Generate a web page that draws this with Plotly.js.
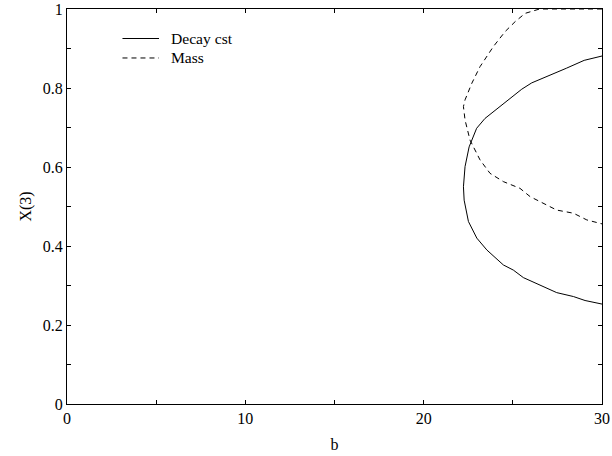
<!DOCTYPE html>
<html>
<head>
<meta charset="utf-8">
<script src="https://cdn.plot.ly/plotly-3.0.1.min.js"></script>
<style>html,body{margin:0;padding:0;background:#fff;}#chart{width:612px;height:456px;}</style>
</head>
<body>
<div id="chart"></div>
<script>
// Decay cst curve (solid)
const decayB = [30, 29.0, 28.0, 27.0, 26.06, 25.5, 25.03, 24.3, 23.44, 22.97, 22.55, 22.32, 22.23, 22.27, 22.51, 22.98, 23.54, 24.47, 25.03, 25.59, 26.53, 27.46, 28.40, 29.05, 30];
const decayX3 = [0.881, 0.87, 0.85, 0.83, 0.813, 0.797, 0.780, 0.755, 0.723, 0.698, 0.651, 0.601, 0.55, 0.516, 0.462, 0.420, 0.390, 0.352, 0.339, 0.320, 0.301, 0.282, 0.272, 0.262, 0.253];
// Mass curve (dashed)
const massB = [30, 28, 26.5, 25.69, 25.13, 24.57, 23.91, 23.16, 22.70, 22.32, 22.23, 22.32, 22.6, 23.16, 23.72, 24.47, 25.4, 25.97, 26.53, 27.46, 28.4, 29.15, 30];
const massX3 = [1.0, 1.0, 1.0, 0.989, 0.968, 0.943, 0.905, 0.854, 0.812, 0.770, 0.753, 0.719, 0.668, 0.618, 0.584, 0.563, 0.546, 0.525, 0.512, 0.491, 0.483, 0.466, 0.456];
const seriesNames = ["Decay cst", "Mass"];
const xTicks = [0, 10, 20, 30];
const yTicks = [0, 0.2, 0.4, 0.6, 0.8, 1];
const yTickText = ["0", "0.2", "0.4", "0.6", "0.8", "1"];

const font = "Liberation Serif, Times New Roman, serif";
const dashes = ["solid", "5px,4px"];
const traces = [
  {x: decayB, y: decayX3, name: seriesNames[0], mode: "lines", line: {color: "#000", width: 1, dash: dashes[0]}},
  {x: massB, y: massX3, name: seriesNames[1], mode: "lines", line: {color: "#000", width: 1, dash: dashes[1]}}
];
// legend drawn as paper-space samples + labels
const legX0 = 0.1037, legX1 = 0.172, legTextX = 0.1907;
const legY = [0.9253, 0.876];
const shapes = seriesNames.map((n, i) => ({
  type: "line", xref: "paper", yref: "paper", x0: legX0, x1: legX1, y0: legY[i], y1: legY[i],
  line: {color: "#000", width: 1, dash: dashes[i]}
}));
const annotations = seriesNames.map((n, i) => ({
  text: n, xref: "paper", yref: "paper", x: legTextX, y: legY[i], xanchor: "left", yanchor: "middle",
  showarrow: false, font: {family: font, size: 15.6, color: "#000"}
}));
const axisCommon = {
  showgrid: false, zeroline: false, showline: true, linecolor: "#000", linewidth: 1,
  mirror: "ticks", ticks: "inside", ticklen: 4, tickwidth: 1, tickcolor: "#000",
  tickfont: {family: font, size: 16, color: "#000"}
};
const layout = {
  width: 612, height: 456,
  margin: {l: 67, r: 10, t: 9, b: 52},
  paper_bgcolor: "#fff", plot_bgcolor: "#fff",
  font: {family: font, size: 16, color: "#000"},
  showlegend: false,
  shapes: shapes,
  annotations: annotations,
  xaxis: Object.assign({}, axisCommon, {
    range: [0, 30], tickmode: "array", tickvals: xTicks, ticktext: xTicks.map(String),
    minor: {ticks: "inside", ticklen: 4, tickcolor: "#000", dtick: 5, tick0: 0},
    title: {text: "b", font: {family: font, size: 16, color: "#000"}, standoff: 12}
  }),
  yaxis: Object.assign({}, axisCommon, {
    range: [0, 1], tickmode: "array", tickvals: yTicks, ticktext: yTickText,
    minor: {ticks: "inside", ticklen: 4, tickcolor: "#000", dtick: 0.1, tick0: 0},
    title: {text: "X(3)", font: {family: font, size: 16, color: "#000"}, standoff: 7}
  })
};
Plotly.newPlot("chart", traces, layout, {displayModeBar: false, staticPlot: true});
</script>
</body>
</html>
